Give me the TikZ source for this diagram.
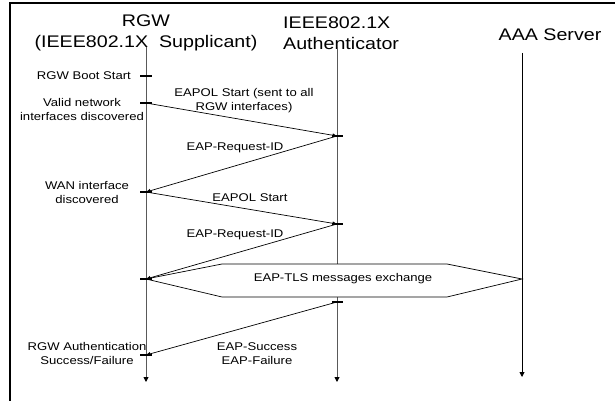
\documentclass[tikz,border=0pt]{standalone}
\usepackage{fontspec}
\setmainfont{Liberation Sans}[FakeStretch=1.17]
\usetikzlibrary{arrows.meta}
\begin{document}
\begin{tikzpicture}[x=1pt,y=-1pt,
  lbl/.style={inner sep=0pt,align=center,font=\fontsize{11.2}{14}\selectfont},
  ttl/.style={inner sep=0pt,font=\fontsize{16.8}{21}\selectfont},
  lifeline/.style={draw=black!65,line width=0.9pt,-{Triangle[length=5pt,width=5pt,color=black]}},
  msg/.style={draw=black,line width=0.7pt,-{Triangle[length=4.5pt,width=3.5pt]}},
  tickmark/.style={draw=black,line width=1.2pt},
  hexa/.style={draw=black,line width=0.7pt,fill=white}]
\useasboundingbox (0,0) rectangle (615,401);
% frame
\draw[line width=2pt] (615,3.5) -- (9.5,3.5) -- (9.5,401);
% titles
\node[ttl,align=center] (trgw) at (146,32.5) {RGW\\(IEEE802.1X\ \ Supplicant)};
\node[ttl,align=left,anchor=west] (tauth) at (283,33.5) {IEEE802.1X\\Authenticator};
\node[ttl] (taaa) at (550,35) {AAA Server};
% lifeline coordinates
\coordinate (rtop) at (146,47);
\coordinate (rbot) at (146,382);
\coordinate (atop) at (337,47);
\coordinate (abot) at (337,382);
\coordinate (stop) at (522,53);
\coordinate (sbot) at (522,377);
\draw[lifeline] (rtop) -- (rbot);
\draw[lifeline] (atop) -- (abot);
\draw[lifeline,draw=black] (stop) -- (sbot);
% event points
\coordinate (r0) at (146,76);
\coordinate (r1) at (146,103);
\coordinate (r2) at (146,192);
\coordinate (r3) at (146,279);
\coordinate (r4) at (146,355);
\coordinate (a1) at (337,136);
\coordinate (a2) at (337,224);
\coordinate (a3) at (337,302);
\coordinate (s3) at (522,279);
% hexagon
\draw[hexa] (r3) -- (222,264) -- (447,264) -- (s3) -- (447,297) -- (222,297) -- cycle;
\node[lbl] (tls) at (343,279) {EAP-TLS messages exchange};
% ticks
\foreach \p in {r0,r1,r2,r3,r4}{\draw[tickmark] ([xshift=-6pt]\p) -- ([xshift=6pt]\p);}
\foreach \p in {a1,a2,a3}{\draw[tickmark] ([xshift=-5pt]\p) -- ([xshift=6pt]\p);}
% messages
\draw[msg] (r1) -- (a1);
\draw[msg] (a1) -- (r2);
\draw[msg] (r2) -- (a2);
\draw[msg] (a2) -- (r3);
\draw[msg] (a3) -- (r4);
% labels
\node[lbl,anchor=east] (lboot) at (131,76) {RGW Boot Start};
\node[lbl] (lvalid) at (82,109) {Valid network\\interfaces discovered};
\node[lbl] (leapol1) at (244,100.5) {EAPOL Start (sent to all\\RGW interfaces)};
\node[lbl] (lreq1) at (235,148) {EAP-Request-ID};
\node[lbl] (lwan) at (87,192.5) {WAN interface\\discovered};
\node[lbl] (leapol2) at (250,198) {EAPOL Start};
\node[lbl] (lreq2) at (235,235) {EAP-Request-ID};
\node[lbl] (lsucc) at (257,353.5) {EAP-Success\\EAP-Failure};
\node[lbl] (lauth) at (87,353.5) {RGW Authentication\\Success/Failure};
\end{tikzpicture}
\end{document}
